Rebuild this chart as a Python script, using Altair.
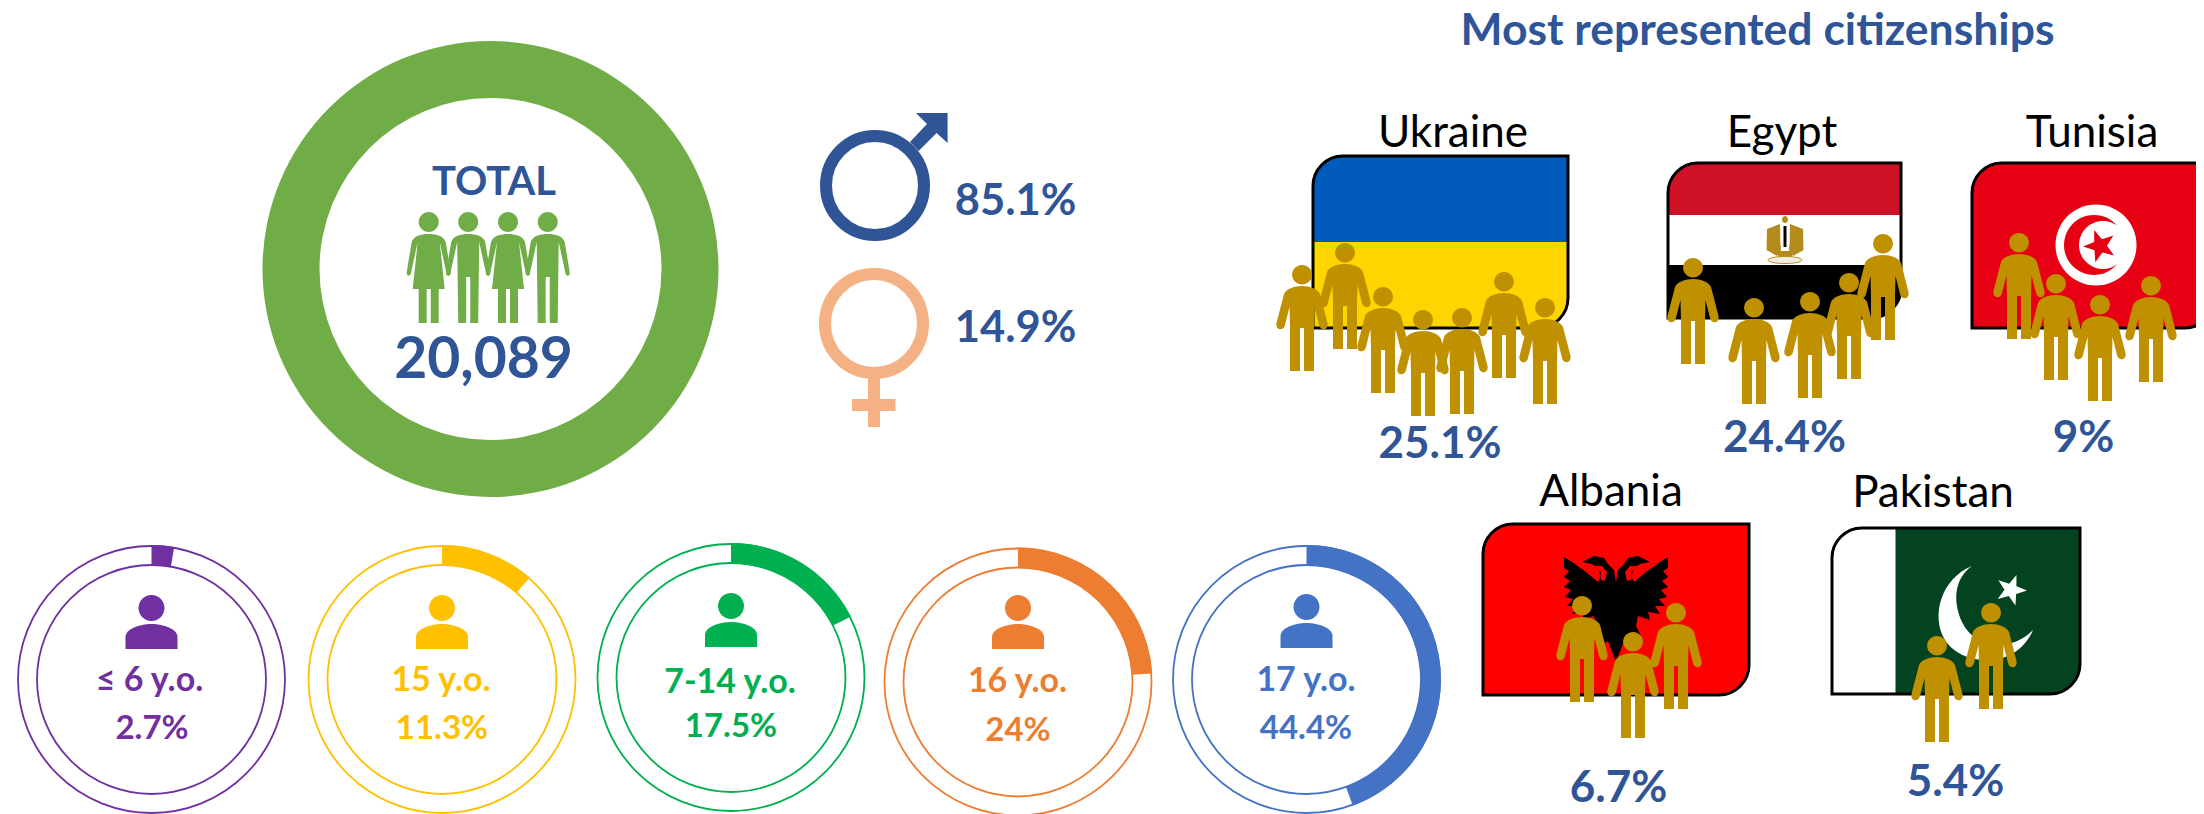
import math
import altair as alt
import pandas as pd

# ---------- values ----------
total_label = "TOTAL"
total_value = "20,089"
gender_labels = ["85.1%", "14.9%"]
age_groups = ["≤ 6 y.o.", "15 y.o.", "7-14 y.o.", "16 y.o.", "17 y.o."]
age_shares = [2.7, 11.3, 17.5, 24.0, 44.4]
age_texts = ["2.7%", "11.3%", "17.5%", "24%", "44.4%"]
title_text = "Most represented citizenships"
countries = ["Ukraine", "Egypt", "Tunisia", "Albania", "Pakistan"]
country_texts = ["25.1%", "24.4%", "9%", "6.7%", "5.4%"]

# ---------- colours ----------
NAVY = "#2F5597"
PEACH = "#F4B183"
LEAF = "#70AD47"
GOLD = "#BF9000"
age_colors = ["#7030A0", "#FFC000", "#00B050", "#ED7D31", "#4472C4"]

# ---------- layout (page pixels of the reference) ----------
ring_cx = [151.5, 442, 731, 1018, 1306.5]
ring_cy = [679.5, 679.5, 677.5, 682, 679.5]
label_x = [149.5, 441, 730, 1017.5, 1306]
pct_x = [152, 442, 731, 1018, 1306]
label_y = [691, 691, 693, 692, 691]
pct_y = [739, 739, 737, 741, 739]
bust_y = [622, 622, 620, 622, 621]
FONT = "Lato"

# ---------- glyph helpers ----------
glyphs = []


def circle(cx, cy, rx, ry=None):
    ry = rx if ry is None else ry
    k = 0.5523
    return [
        ("M", cx - rx, cy),
        ("C", cx - rx, cy - k * ry, cx - k * rx, cy - ry, cx, cy - ry),
        ("C", cx + k * rx, cy - ry, cx + rx, cy - k * ry, cx + rx, cy),
        ("C", cx + rx, cy + k * ry, cx + k * rx, cy + ry, cx, cy + ry),
        ("C", cx - k * rx, cy + ry, cx - rx, cy + k * ry, cx - rx, cy),
        ("Z",),
    ]


def poly(points):
    out = [("M", *points[0])]
    out += [("L", *p) for p in points[1:]]
    out.append(("Z",))
    return out


def rrect(l, t, r, b, tl=0, br=0):
    k = 0.45
    out = [("M", l + tl, t), ("L", r, t)]
    if br:
        out += [("L", r, b - br), ("C", r, b - br * k, r - br * k, b, r - br, b)]
    else:
        out += [("L", r, b)]
    out += [("L", l, b)]
    if tl:
        out += [("L", l, t + tl), ("C", l, t + tl * k, l + tl * k, t, l + tl, t)]
    out.append(("Z",))
    return out


def star(cx, cy, ro, ri, rot=-90):
    pts = []
    for i in range(10):
        a = math.radians(rot + i * 36)
        rad = ro if i % 2 == 0 else ri
        pts.append((cx + rad * math.cos(a), cy + rad * math.sin(a)))
    return poly(pts)


def add(cmds, fill="transparent", stroke="transparent", sw=0):
    xs, ys = [], []
    for c in cmds:
        nums = c[1:]
        xs += list(nums[0::2])
        ys += list(nums[1::2])
    ax, ay = (min(xs) + max(xs)) / 2, (min(ys) + max(ys)) / 2
    parts = []
    for c in cmds:
        nums = c[1:]
        tr = []
        for i, n in enumerate(nums):
            tr.append(f"{n - (ax if i % 2 == 0 else ay):.2f}")
        parts.append(c[0] + " ".join(tr))
    glyphs.append(dict(cx=ax, cy=ay, path=" ".join(parts), fill=fill, stroke=stroke, sw=sw))


def person(cx, top, color=GOLD):
    add(circle(cx, top + 9.7, 9.9, 9.7), fill=color)
    body = [
        ("M", cx, top + 21),
        ("C", cx + 8, top + 21, cx + 16, top + 24, cx + 18, top + 29),
        ("L", cx + 25.5, top + 58),
        ("C", cx + 27, top + 65, cx + 18.5, top + 67, cx + 17, top + 60),
        ("L", cx + 12.5, top + 42),
        ("L", cx + 12, top + 63),
        ("L", cx + 12, top + 106),
        ("L", cx + 2, top + 106),
        ("L", cx + 2, top + 63),
        ("L", cx - 2, top + 63),
        ("L", cx - 2, top + 106),
        ("L", cx - 12, top + 106),
        ("L", cx - 12, top + 63),
        ("L", cx - 12.5, top + 42),
        ("L", cx - 17, top + 60),
        ("C", cx - 18.5, top + 67, cx - 27, top + 65, cx - 25.5, top + 58),
        ("L", cx - 18, top + 29),
        ("C", cx - 16, top + 24, cx - 8, top + 21, cx, top + 21),
        ("Z",),
    ]
    add(body, fill=color)


def slim(cx, top, skirt):
    add(circle(cx, top + 10, 10, 10), fill=LEAF)
    right = [
        ("L", cx + 22, top + 60),
        ("C", cx + 22.5, top + 65, cx + 18, top + 65, cx + 17.5, top + 60),
        ("L", cx + 11, top + 30),
    ]
    left = [
        ("L", cx - 17.5, top + 60),
        ("C", cx - 18, top + 65, cx - 22.5, top + 65, cx - 22, top + 60),
        ("L", cx - 17, top + 30),
    ]
    if skirt:
        lower = [
            ("L", cx + 16, top + 77),
            ("L", cx + 10, top + 77),
            ("L", cx + 10, top + 111),
            ("L", cx + 2, top + 111),
            ("L", cx + 2, top + 77),
            ("L", cx - 2, top + 77),
            ("L", cx - 2, top + 111),
            ("L", cx - 10, top + 111),
            ("L", cx - 10, top + 77),
            ("L", cx - 16, top + 77),
        ]
    else:
        lower = [
            ("L", cx + 10, top + 111),
            ("L", cx + 2, top + 111),
            ("L", cx + 2, top + 65),
            ("L", cx - 2, top + 65),
            ("L", cx - 2, top + 111),
            ("L", cx - 10, top + 111),
        ]
    path = [
        ("M", cx, top + 22),
        ("C", cx + 8, top + 22, cx + 15, top + 24, cx + 17, top + 30),
        *right,
        *lower,
        ("L", cx - 11, top + 30),
        *left,
        ("C", cx - 15, top + 24, cx - 8, top + 22, cx, top + 22),
        ("Z",),
    ]
    add(path, fill=LEAF)


def bust(cx, cy, color):
    add(circle(cx, cy - 14, 13, 13), fill=color)
    add(
        [
            ("M", cx - 26, cy + 27),
            ("L", cx - 26, cy + 15),
            ("C", cx - 26, cy + 7, cx - 12, cy + 2, cx, cy + 2),
            ("C", cx + 12, cy + 2, cx + 26, cy + 7, cx + 26, cy + 15),
            ("L", cx + 26, cy + 27),
            ("Z",),
        ],
        fill=color,
    )


# ---------- central group and gender signs ----------
for i, x in enumerate([428.7, 468.2, 508, 547.7]):
    slim(x, 212, i % 2 == 0)

add(circle(875, 185.5, 49, 49.5), stroke=NAVY, sw=12)
add(poly([(910, 142), (927, 124), (916, 113), (947.6, 113), (947.6, 143), (936.6, 133), (918.6, 151)]), fill=NAVY)
add(circle(874, 323.5, 49, 49.5), stroke=PEACH, sw=12)
add(rrect(868, 375, 880, 427), fill=PEACH)
add(rrect(852, 399, 895.5, 411), fill=PEACH)

# ---------- busts ----------
for x, y, c in zip(ring_cx, bust_y, age_colors):
    bust(x, y, c)

# ---------- flags ----------
FR = 30
# Ukraine
l, t, r, b = 1313, 156, 1568, 328
add(rrect(l, t, r, b, FR, FR), fill="#FFD500")
add(rrect(l, t, r, 242, FR, 0), fill="#005BBB")
add(rrect(l, t, r, b, FR, FR), stroke="#000000", sw=3)
# Egypt
l, t, r, b = 1668, 163, 1901, 318
add(rrect(l, t, r, b, FR, FR), fill="#FFFFFF")
add(rrect(l, t, r, 215, FR, 0), fill="#CE1126")
add(rrect(l, 265, r, b, 0, FR), fill="#000000")
add(rrect(l, t, r, b, FR, FR), stroke="#000000", sw=3)
ex = 1785
add(circle(ex, 219.5, 3, 3.5), fill="#B58B1E")
add(poly([(ex - 5, 224), (ex - 18, 229), (ex - 18.5, 250), (ex - 8, 256), (ex - 4, 250)]), fill="#B58B1E")
add(poly([(ex + 5, 224), (ex + 18, 229), (ex + 18.5, 250), (ex + 8, 256), (ex + 4, 250)]), fill="#B58B1E")
add(poly([(ex - 4.5, 224), (ex + 4.5, 224), (ex + 4.5, 245), (ex, 251), (ex - 4.5, 245)]), fill="#FFFFFF")
add(rrect(ex - 1.5, 226, ex + 1.5, 247), fill="#000000")
add(rrect(ex - 7, 251, ex + 7, 258), fill="#B58B1E")
add(circle(ex, 260, 17, 3.5), fill="#F1EDE0", stroke="#B58B1E", sw=1)
# Tunisia
l, t, r, b = 1972, 163, 2215, 328
add(rrect(l, t, r, b, FR, FR), fill="#E70013", stroke="#000000", sw=3)
add(circle(2096, 245, 40.5), fill="#FFFFFF")
add(circle(2094, 245, 30), fill="#E70013")
add(circle(2103, 245, 24), fill="#FFFFFF")
add(star(2100, 246, 17, 7, rot=-110), fill="#E70013")
# Albania
l, t, r, b = 1483, 524, 1749, 695
add(rrect(l, t, r, b, FR, FR), fill="#FF0000", stroke="#000000", sw=3)
mx = 1616
half = [(0, 582), (2, 570), (8, 564), (12, 558), (22, 556), (34, 562), (24, 564), (18, 568), (15, 576),
        (18, 582), (30, 572), (44, 562), (52, 557), (52, 568), (47, 571), (52, 577), (46, 581), (52, 587),
        (45, 590), (51, 597), (43, 599), (49, 606), (39, 606), (44, 614), (32, 612), (34, 620), (22, 616),
        (20, 626), (26, 638), (16, 632), (14, 645), (8, 641), (0, 662)]
add(poly([(mx + dx, y) for dx, y in half] + [(mx - dx, y) for dx, y in reversed(half[1:-1])]), fill="#000000")
for sign in (-1, 1):
    add(poly([(mx + sign * 14, 566), (mx + sign * 22, 566), (mx + sign * 15, 572), (mx + sign * 15, 580),
              (mx + sign * 11, 581), (mx + sign * 9, 572)]), fill="#FF0000")
# Pakistan
l, t, r, b = 1832, 528, 2080, 694
add(rrect(l, t, r, b, FR, FR), fill="#FFFFFF")
add(rrect(1895.5, t, r, b, 0, FR), fill="#03431F")
add(
    [
        ("M", 1972, 566),
        ("C", 1942, 578, 1930, 615, 1945, 640),
        ("C", 1960, 665, 2015, 672, 2033, 630),
        ("C", 2012, 652, 1975, 650, 1962, 622),
        ("C", 1952, 600, 1955, 578, 1972, 566),
        ("Z",),
    ],
    fill="#FFFFFF",
)
add(star(2011, 590, 16, 6.5, rot=-70), fill="#FFFFFF")
add(rrect(l, t, r, b, FR, FR), stroke="#000000", sw=3)

# ---------- people over the flags ----------
people = [
    (1302, 265), (1345, 243), (1383, 287), (1504, 272), (1423, 310), (1462, 308), (1545, 298),
    (1693, 258), (1883, 234), (1754, 298), (1810, 292), (1849, 273),
    (2019, 233), (2056, 274), (2100, 295), (2151, 276),
    (1582, 596), (1676, 603), (1633, 632),
    (1991, 603), (1937, 636),
]
for x, top in people:
    person(x, top)

glyph_df = pd.DataFrame(glyphs)
glyph_df["order"] = range(len(glyph_df))
glyph_df["unit"] = 4  # symbol size 4 draws path units as pixels

# ---------- arcs ----------
TWO_PI = 2 * math.pi
arc_rows = [dict(cx=490.5, cy=269, start=0, end=100, r=228, r2=171, color=LEAF)]
for x, y, s, c in zip(ring_cx, ring_cy, age_shares, age_colors):
    arc_rows.append(dict(cx=x, cy=y, start=0, end=s, r=134.5, r2=114, color=c))
arc_df = pd.DataFrame(arc_rows)
outline_df = pd.DataFrame(
    [dict(cx=x, cy=y, start=0, end=100, r=133.5, r2=114.5, color=c) for x, y, c in zip(ring_cx, ring_cy, age_colors)]
)

# ---------- text ----------
bold_rows = [
    dict(t=total_label, x=494, y=195, s=40, c=NAVY),
    dict(t=total_value, x=483.5, y=378, s=57, c=NAVY),
    dict(t=gender_labels[0], x=1015.5, y=215, s=43.5, c=NAVY),
    dict(t=gender_labels[1], x=1015.5, y=342, s=43.5, c=NAVY),
    dict(t=title_text, x=1757.5, y=45, s=44.5, c=NAVY),
]
for i in range(5):
    bold_rows.append(dict(t=age_groups[i], x=label_x[i], y=label_y[i], s=34, c=age_colors[i]))
    bold_rows.append(dict(t=age_texts[i], x=pct_x[i], y=pct_y[i], s=33, c=age_colors[i]))
for t, x, y in zip(country_texts, [1440, 1784.5, 2083.5, 1618.5, 1955.5], [458, 452, 452, 802, 796]):
    bold_rows.append(dict(t=t, x=x, y=y, s=44, c=NAVY))
regular_rows = [
    dict(t=n, x=x, y=y, s=44, c="#000000")
    for n, x, y in zip(countries, [1453, 1782, 2092, 1611, 1933], [147, 147, 147, 506, 507])
]

# ---------- chart ----------
# The page keeps 8px either side, so the plot area spans page pixels 8..2196 across.
X = alt.Scale(domain=[8, 2196], nice=False, zero=False)
Y = alt.Scale(domain=[814, 8], nice=False, zero=False)
TH = alt.Scale(domain=[0, 100], range=[0, TWO_PI])


def arc_enc(chart):
    return chart.encode(
        x=alt.X("cx:Q", scale=X, axis=None),
        y=alt.Y("cy:Q", scale=Y, axis=None),
        theta=alt.Theta("start:Q", scale=TH, stack=None),
        theta2="end:Q",
        radius=alt.Radius("r:Q", scale=None),
        radius2="r2:Q",
    )


filled_arcs = arc_enc(alt.Chart(arc_df).mark_arc()).encode(color=alt.Color("color:N", scale=None, legend=None))
ring_lines = arc_enc(alt.Chart(outline_df).mark_arc(filled=False, fill="transparent", strokeWidth=1.8)).encode(
    stroke=alt.Stroke("color:N", scale=None, legend=None)
)
glyph_layer = (
    alt.Chart(glyph_df)
    .mark_point(filled=True, opacity=1, clip=True)
    .encode(
        x=alt.X("cx:Q", scale=X, axis=None),
        y=alt.Y("cy:Q", scale=Y, axis=None),
        shape=alt.Shape("path:N", scale=None, legend=None),
        fill=alt.Fill("fill:N", scale=None, legend=None),
        stroke=alt.Stroke("stroke:N", scale=None, legend=None),
        strokeWidth=alt.StrokeWidth("sw:Q", scale=None, legend=None),
        size=alt.Size("unit:Q", scale=None, legend=None),
        order=alt.Order("order:Q"),
    )
)


def text_layer(rows, weight):
    return (
        alt.Chart(pd.DataFrame(rows))
        .mark_text(font=FONT, fontWeight=weight, align="center", baseline="alphabetic")
        .encode(
            x=alt.X("x:Q", scale=X, axis=None),
            y=alt.Y("y:Q", scale=Y, axis=None),
            text="t:N",
            size=alt.Size("s:Q", scale=None, legend=None),
            color=alt.Color("c:N", scale=None, legend=None),
        )
    )


chart = (
    alt.layer(filled_arcs, ring_lines, glyph_layer, text_layer(bold_rows, "bold"), text_layer(regular_rows, "normal"))
    .resolve_scale(color="independent", size="independent")
    .properties(width=2188, height=806, padding=0, background="#FFFFFF")
    .configure_view(stroke=None)
)
chart.save("out.html", embed_options={"renderer": "svg", "actions": False})
